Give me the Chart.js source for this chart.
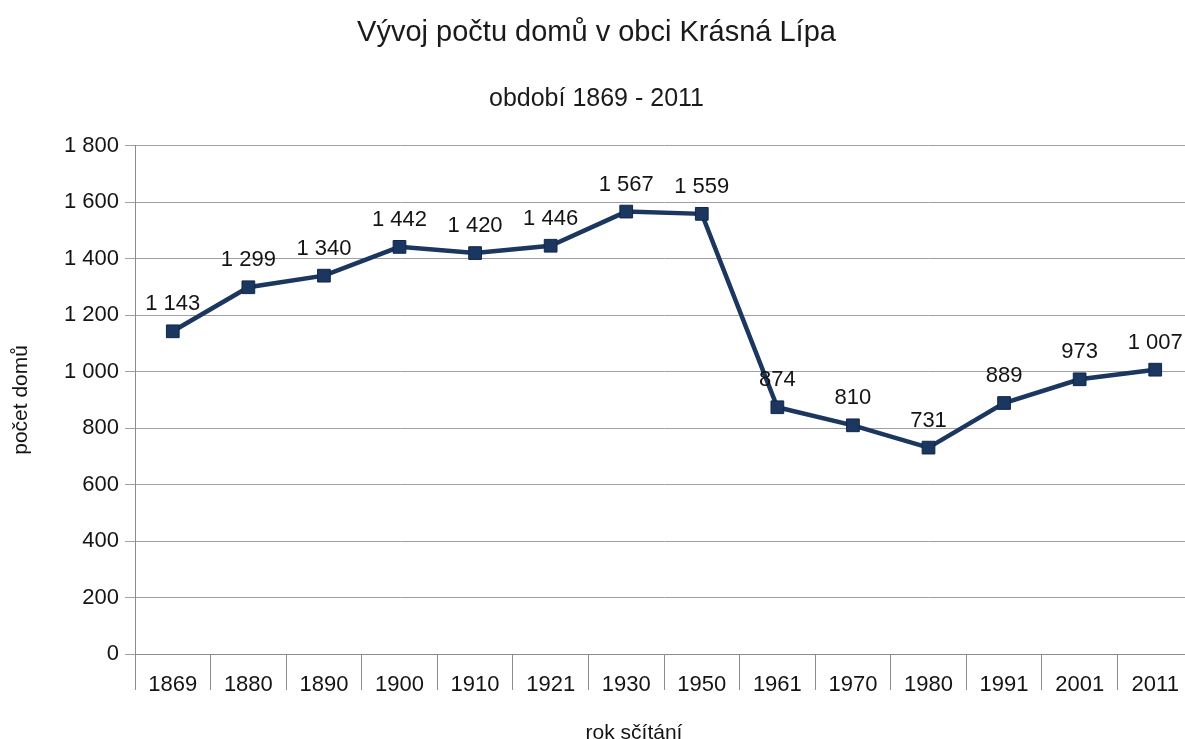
<!DOCTYPE html>
<html>
<head>
<meta charset="utf-8">
<script src="https://cdn.jsdelivr.net/npm/chart.js@4.4.1/dist/chart.umd.min.js"></script>
<style>
    html, body { margin: 0; padding: 0; background: #fff; overflow: hidden; }
    #wrap { width: 1185px; height: 739px; overflow: hidden; }
</style>
</head>
<body>
<!-- canvas is a bit wider than the window: the plot area runs past the right edge like in the scan -->
<div id="wrap"><canvas id="houses-chart" width="1193" height="739"></canvas></div>
<script>
// data
const years = ['1869', '1880', '1890', '1900', '1910', '1921', '1930', '1950', '1961', '1970', '1980', '1991', '2001', '2011'];
const houseCounts = [1143, 1299, 1340, 1442, 1420, 1446, 1567, 1559, 874, 810, 731, 889, 973, 1007];
const yTicks = [0, 200, 400, 600, 800, 1000, 1200, 1400, 1600, 1800];

const fontFamily = '"Liberation Sans", Arial, sans-serif';
const lineColor = '#1b365f';

// "1 143" style numbers
function czNum(v) {
    return String(v).replace(/\B(?=(\d{3})+(?!\d))/g, ' ');
}

// draws the value above each point + the x axis title (not centred on the plot in the original)
const valueLabels = {
    id: 'valueLabels',
    afterDatasetsDraw(chart) {
        const ctx = chart.ctx;
        const meta = chart.getDatasetMeta(0);
        ctx.save();
        ctx.font = '22px ' + fontFamily;
        ctx.fillStyle = '#141414';
        ctx.textAlign = 'center';
        ctx.textBaseline = 'middle';
        meta.data.forEach(function (pt, i) {
            ctx.fillText(czNum(houseCounts[i]), pt.x, pt.y - 27);
        });
        ctx.font = '21px ' + fontFamily;
        ctx.fillText('rok sčítání', 634, 733);
        ctx.restore();
    }
};

const ctx = document.getElementById('houses-chart').getContext('2d');
new Chart(ctx, {
    type: 'line',
    data: {
        labels: years,
        datasets: [{
            label: 'počet domů',
            data: houseCounts,
            borderColor: lineColor,
            backgroundColor: lineColor,
            borderWidth: 4.5,
            pointStyle: 'rect',
            pointRadius: 9,
            pointBackgroundColor: lineColor,
            pointBorderColor: '#10284a',
            pointBorderWidth: 1,
            tension: 0
        }]
    },
    options: {
        responsive: false,
        animation: false,
        layout: { autoPadding: false, padding: 0 },
        plugins: {
            legend: { display: false },
            tooltip: { enabled: false },
            title: {
                display: true,
                text: 'Vývoj počtu domů v obci Krásná Lípa',
                color: '#1a1a1a',
                font: { family: fontFamily, size: 29, weight: 'normal' },
                padding: { top: 16, bottom: 33 }
            },
            subtitle: {
                display: true,
                text: 'období 1869 - 2011',
                color: '#1a1a1a',
                font: { family: fontFamily, size: 25, weight: 'normal' },
                padding: { top: 0, bottom: 32 }
            }
        },
        scales: {
            x: {
                offset: true,
                afterFit(axis) {
                    axis.height = 85;
                    axis.paddingLeft = 0;
                    axis.paddingRight = 0;
                },
                grid: {
                    offset: true,
                    drawOnChartArea: false,
                    drawTicks: true,
                    tickLength: 36,
                    color: '#8c8c8c'
                },
                border: { color: '#8c8c8c' },
                ticks: {
                    color: '#141414',
                    padding: -18,
                    maxRotation: 0,
                    font: { family: fontFamily, size: 22 }
                }
            },
            y: {
                min: 0,
                max: 1800,
                afterFit(axis) { axis.width = 135; },
                afterBuildTicks(axis) {
                    axis.ticks = yTicks.map(function (v) { return { value: v }; });
                },
                grid: {
                    color: '#a0a0a0',
                    tickLength: 10
                },
                border: { color: '#8c8c8c' },
                ticks: {
                    color: '#141414',
                    padding: 6,
                    font: { family: fontFamily, size: 22 },
                    callback: function (v) { return czNum(v); }
                },
                title: {
                    display: true,
                    text: 'počet domů',
                    color: '#141414',
                    font: { family: fontFamily, size: 21 },
                    padding: { top: 9, bottom: 0 }
                }
            }
        }
    },
    plugins: [valueLabels]
});
</script>
</body>
</html>
